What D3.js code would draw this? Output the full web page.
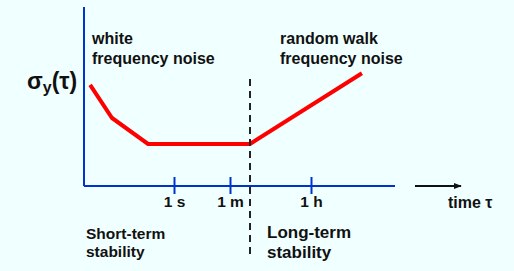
<!DOCTYPE html>
<html>
<head>
<meta charset="utf-8">
<script src="https://cdn.jsdelivr.net/npm/d3@7"></script>
<style>
  body { margin: 0; background: #f0ffff; }
  svg { display: block; }
  text { font-family: "Liberation Sans", Arial, sans-serif; fill: #111; }
</style>
</head>
<body>
<div id="container"></div>
<script>
const width = 514;
const height = 271;

// tau breakpoints (seconds) and where they sit on the axis
const tauDomain = [0.001, 1, 60, 3600, 100000];
const tickTau = [1, 60, 3600];
const tickLabels = ["1 s", "1 m", "1 h"];

// red Allan deviation curve (arbitrary sigma units)
const curveTau = [0.0016, 0.0086, 0.136, 165, 27000];
const curveSigma = [0.565, 0.38, 0.235, 0.235, 0.63];

const boundaryTau = 165;

const svg = d3.select("#container").append("svg")
    .attr("width", width)
    .attr("height", height);

svg.append("rect").attr("width", width).attr("height", height).attr("fill", "#f0ffff");

//----------------------------SCALES----------------------------//
const xScale = d3.scaleLog().domain(tauDomain).range([84, 174, 230, 311, 395]);
const yScale = d3.scaleLinear().domain([0, 1]).range([186, 7]);

//-----------------------------AXES-----------------------------//
const axisColor = "#0033cc";
svg.append("line")
    .attr("x1", 84).attr("x2", 84)
    .attr("y1", yScale(1)).attr("y2", yScale(0))
    .attr("stroke", axisColor).attr("stroke-width", 2);

const xaxis = d3.axisBottom(xScale)
    .tickValues(tickTau)
    .tickSize(0)
    .tickFormat((d, i) => tickLabels[i]);

const gx = svg.append("g")
    .attr("transform", "translate(0," + yScale(0) + ")")
    .call(xaxis);
gx.select(".domain")
    .attr("d", "M" + xScale.range()[0] + ",0H" + xScale.range()[4])
    .attr("stroke", axisColor).attr("stroke-width", 2);
gx.selectAll(".tick line")
    .attr("y1", -9).attr("y2", 8)
    .attr("stroke", axisColor).attr("stroke-width", 2);
gx.selectAll(".tick text")
    .attr("y", 21)
    .attr("dy", 0)
    .style("font-size", "15.5px")
    .style("font-weight", "bold")
    .style("font-family", "Liberation Sans, Arial, sans-serif")
    .attr("fill", "#111");

// arrow for time
svg.append("defs").append("marker")
    .attr("id", "arrow")
    .attr("viewBox", "0 0 10 10")
    .attr("refX", 9).attr("refY", 5)
    .attr("markerWidth", 4).attr("markerHeight", 4)
    .attr("orient", "auto")
    .append("path").attr("d", "M0,1L10,5L0,9Z").attr("fill", "#111");

svg.append("line")
    .attr("x1", 415).attr("x2", 461)
    .attr("y1", yScale(0)).attr("y2", yScale(0))
    .attr("stroke", "#111").attr("stroke-width", 2)
    .attr("marker-end", "url(#arrow)");

svg.append("text")
    .attr("x", 448).attr("y", 208)
    .style("font-size", "16px").style("font-weight", "bold")
    .text("time τ");

//----------------------------LINES-----------------------------//
const line = d3.line()
    .x(d => xScale(d[0]))
    .y(d => yScale(d[1]));

svg.append("path")
    .attr("d", line(d3.zip(curveTau, curveSigma)))
    .attr("fill", "none")
    .attr("stroke", "#ff0000")
    .attr("stroke-width", 4);

svg.append("line")
    .attr("x1", xScale(boundaryTau)).attr("x2", xScale(boundaryTau))
    .attr("y1", 79).attr("y2", 256)
    .attr("stroke", "#222").attr("stroke-width", 2)
    .attr("stroke-dasharray", "7,5");

//----------------------------LABELS----------------------------//
const sig = svg.append("text")
    .attr("x", 27).attr("y", 89)
    .style("font-size", "23px").style("font-weight", "bold");
sig.append("tspan").text("σ");
sig.append("tspan").attr("dy", 4).style("font-size", "16px").text("y");
sig.append("tspan").attr("dy", -4).text("(τ)");

function block(x, y, lines, size, gap) {
    const t = svg.append("text")
        .attr("x", x).attr("y", y)
        .style("font-size", size + "px").style("font-weight", "bold");
    lines.forEach((s, i) => {
        t.append("tspan").attr("x", x).attr("dy", i ? gap : 0).text(s);
    });
}

block(92, 44, ["white", "frequency noise"], 16, 20);
block(280, 44, ["random walk", "frequency noise"], 16, 20);
block(86, 239, ["Short-term", "stability"], 15.5, 18);
block(267, 238, ["Long-term", "stability"], 17, 20);
</script>
</body>
</html>
